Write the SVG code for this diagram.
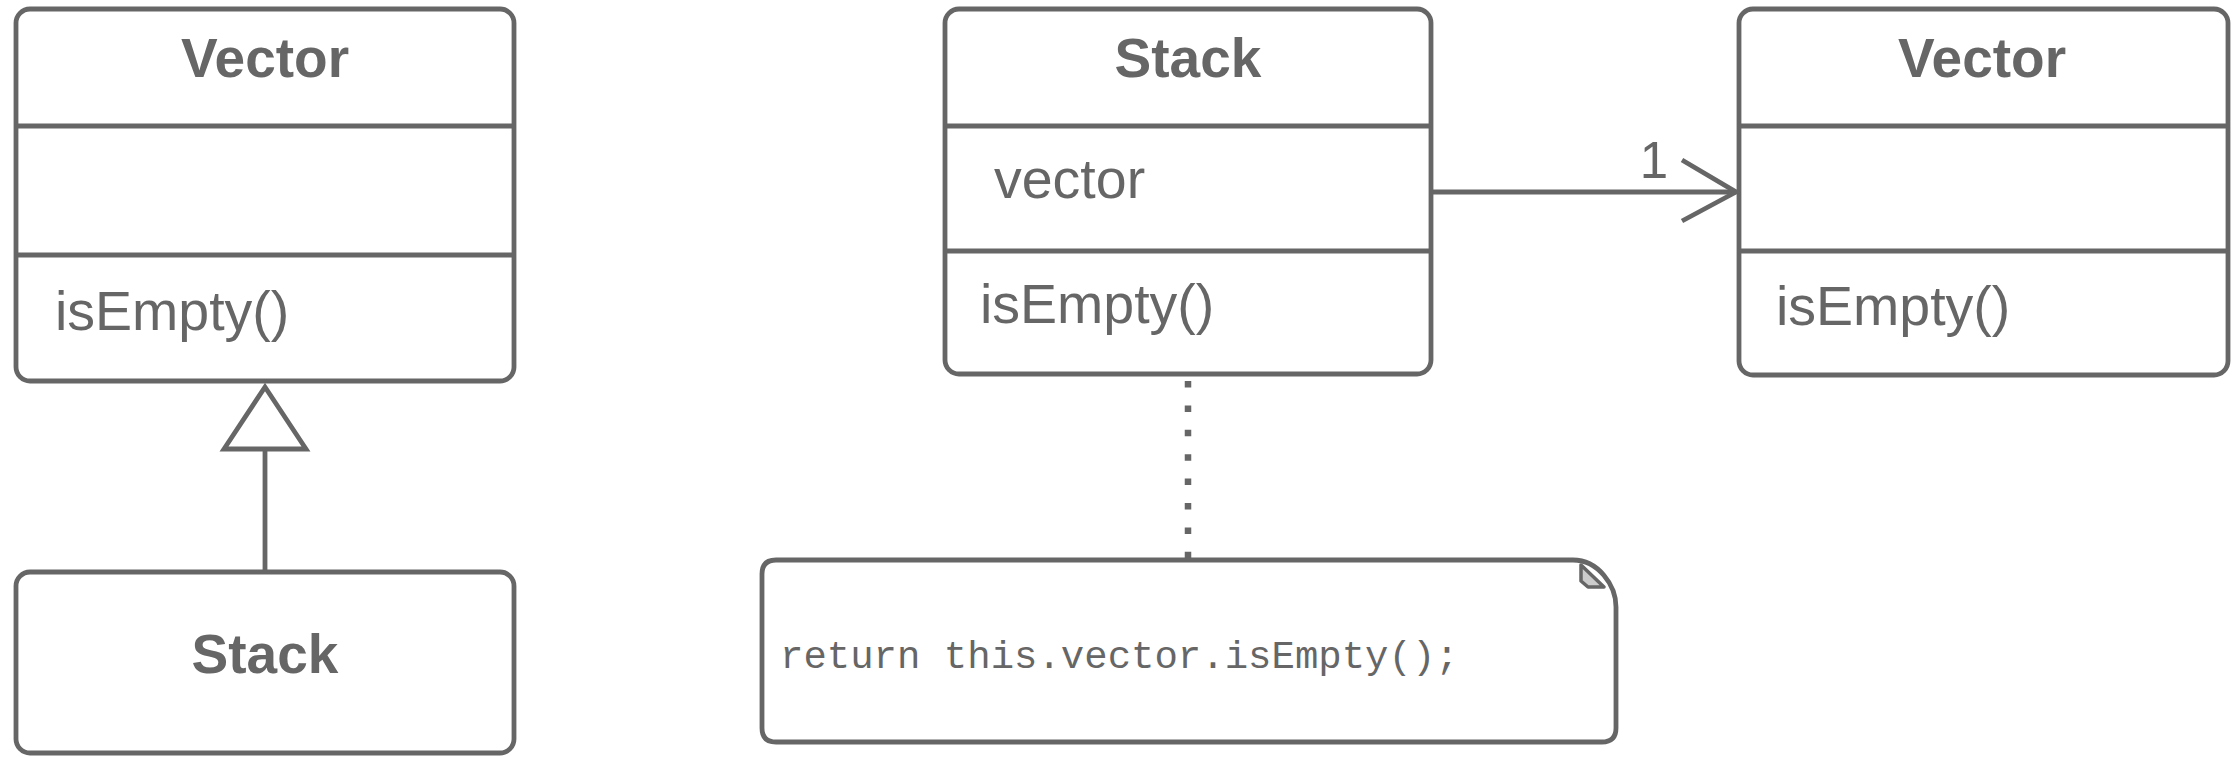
<svg xmlns="http://www.w3.org/2000/svg" width="2239" height="757" viewBox="0 0 2239 757">
<defs>
<style>
.box{fill:#ffffff;stroke:#666666;stroke-width:4.8}
.div{stroke:#666666;stroke-width:4.8;fill:none}
.title{font-family:"Liberation Sans",Arial,sans-serif;font-weight:bold;font-size:55px;fill:#666666;text-anchor:middle}
.member{font-family:"Liberation Sans",Arial,sans-serif;font-size:55.5px;fill:#666666}
.code{font-family:"Liberation Mono","Courier New",monospace;font-size:39px;fill:#666666}
.conn{stroke:#666666;stroke-width:4.8;fill:none}
</style>
</defs>
<rect width="2239" height="757" fill="#ffffff"/>
<g id="vector-left">
<rect class="box" x="16" y="9" width="498" height="372" rx="14"/>
<line class="div" x1="16" y1="126" x2="514" y2="126"/>
<line class="div" x1="16" y1="255" x2="514" y2="255"/>
<text class="title" x="265" y="77">Vector</text>
<text class="member" x="55" y="330">isEmpty()</text>
</g>
<g id="stack-left">
<rect class="box" x="16" y="572" width="498" height="181" rx="14"/>
<text class="title" x="265" y="673">Stack</text>
</g>
<g id="stack-middle">
<rect class="box" x="945" y="9" width="486" height="365" rx="14"/>
<line class="div" x1="945" y1="126" x2="1431" y2="126"/>
<line class="div" x1="945" y1="251" x2="1431" y2="251"/>
<text class="title" x="1188" y="77">Stack</text>
<text class="member" x="994" y="198">vector</text>
<text class="member" x="980" y="323">isEmpty()</text>
</g>
<g id="vector-right">
<rect class="box" x="1739" y="9" width="489" height="366" rx="14"/>
<line class="div" x1="1739" y1="126" x2="2228" y2="126"/>
<line class="div" x1="1739" y1="251" x2="2228" y2="251"/>
<text class="title" x="1982" y="77">Vector</text>
<text class="member" x="1776" y="325">isEmpty()</text>
</g>
<g id="note">
<path class="box" d="M 776 560 H 1573 C 1598 560 1616 585 1616 607 V 728 Q 1616 742 1602 742 H 776 Q 762 742 762 728 V 574 Q 762 560 776 560 Z"/>
<path d="M 1581 565 L 1581 581 L 1588 587 L 1604 587 Z" fill="#cccccc" stroke="#666666" stroke-width="3.5" stroke-linejoin="round"/>
<text class="code" x="780" y="668">return this.vector.isEmpty();</text>
</g>
<g id="connectors">
<line class="conn" x1="265" y1="449" x2="265" y2="572"/>
<polygon class="conn" points="265,387 224,449 306,449" fill="#ffffff"/>
<line class="conn" x1="1431" y1="192" x2="1736" y2="192"/>
<polyline class="conn" points="1682,160 1736,192 1682,221"/>
<text x="1654" y="178" font-family="Liberation Sans,Arial,sans-serif" font-size="51" fill="#666666" text-anchor="middle">1</text>
<line x1="1188" y1="381" x2="1188" y2="558" stroke="#666666" stroke-width="6.5" stroke-dasharray="6.5 17.9"/>
</g>
</svg>
